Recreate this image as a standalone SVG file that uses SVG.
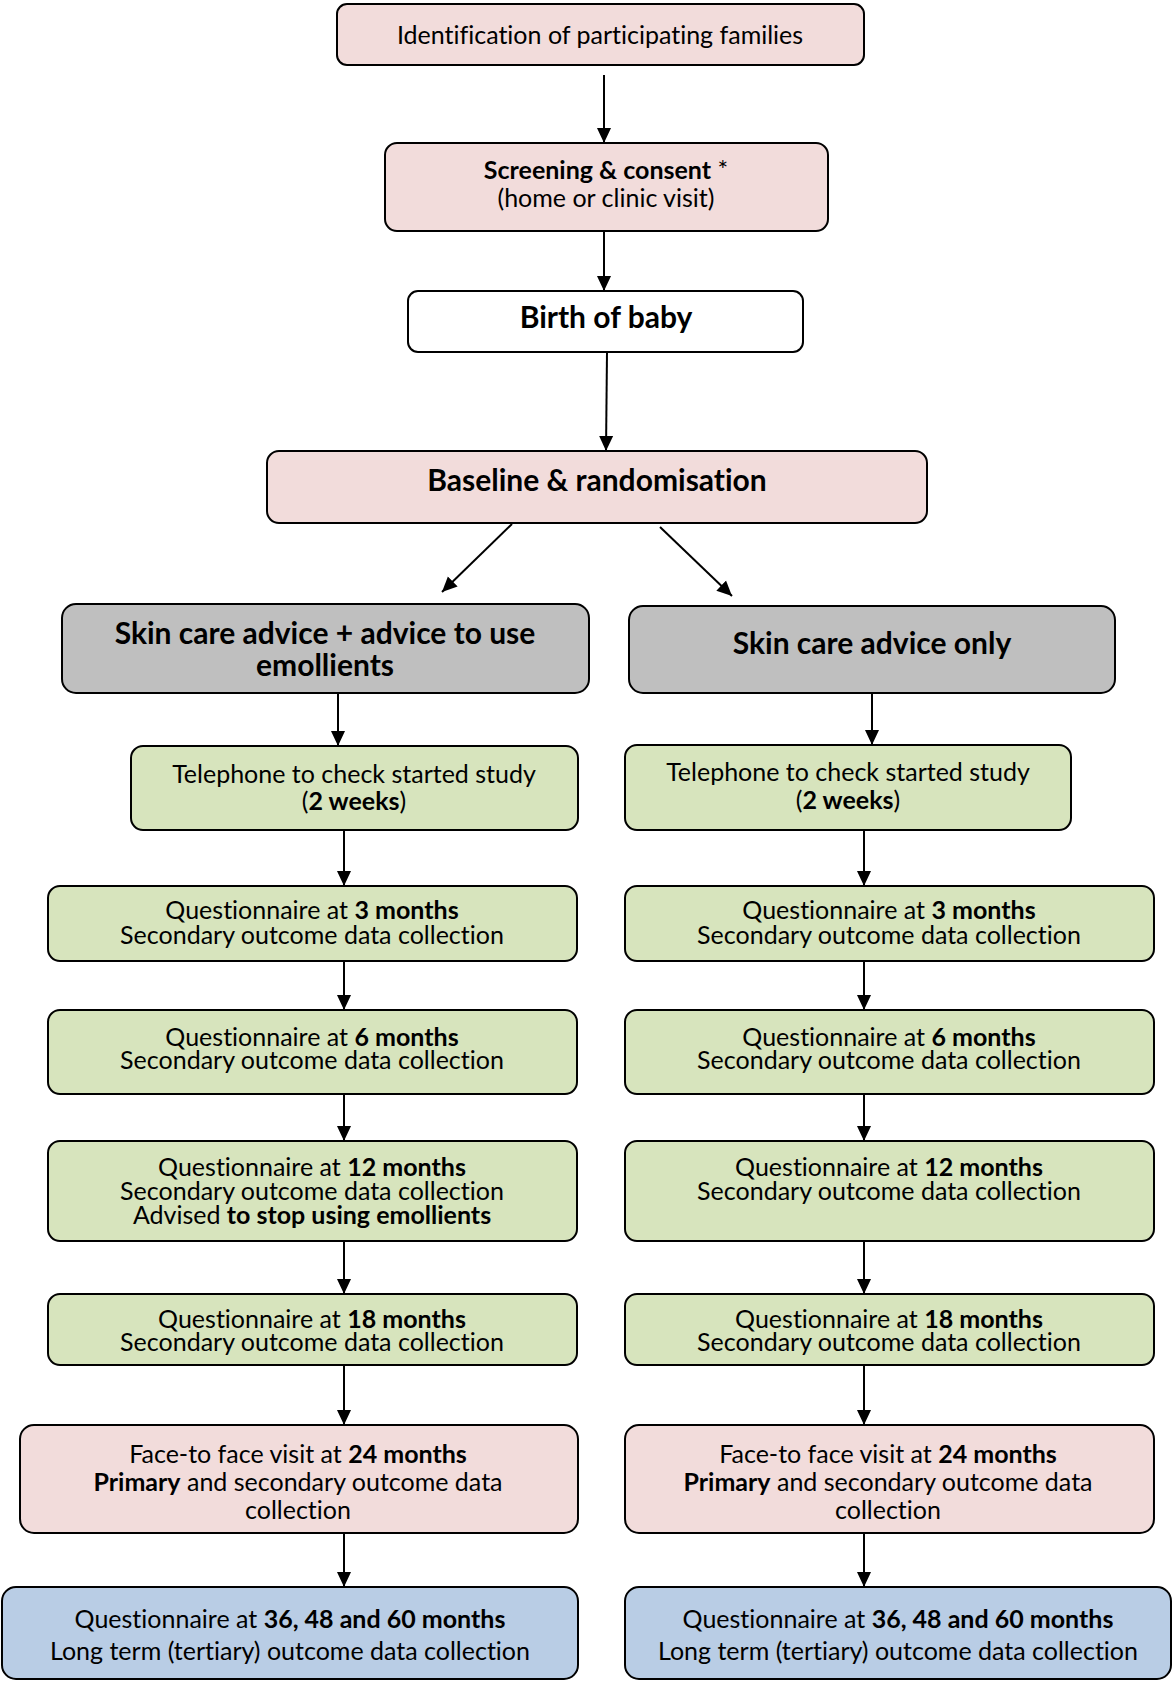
<svg xmlns="http://www.w3.org/2000/svg" width="1173" height="1681" viewBox="0 0 1173 1681">
<defs>
<marker id="ah" markerUnits="userSpaceOnUse" markerWidth="16" markerHeight="16" viewBox="0 0 16 16" refX="15" refY="8" orient="auto">
<path d="M0,1 L15,8 L0,15 Z" fill="#000"/>
</marker>
</defs>
<style>
.box{stroke:#000;stroke-width:2}
.pink{fill:#f2dcdb}
.green{fill:#d7e4bd}
.grey{fill:#bfbfbf}
.blue{fill:#b9cde5}
.white{fill:#fff}
text{font-family:Lato,"Liberation Sans",sans-serif;fill:#000;text-anchor:middle;font-variant-ligatures:none}
.t{font-size:25px}
.h{font-size:30px;font-weight:bold}
.b{font-weight:bold}
.conn line{stroke:#000;stroke-width:2;marker-end:url(#ah)}
</style>
<g class="conn">
<line x1="604" y1="75" x2="604" y2="143"/>
<line x1="604" y1="231" x2="604" y2="291"/>
<line x1="607" y1="352" x2="606" y2="451"/>
<line x1="512" y1="524" x2="442" y2="592"/>
<line x1="660" y1="527" x2="732" y2="596"/>
<line x1="338" y1="693" x2="338" y2="746"/>
<line x1="872" y1="693" x2="872" y2="745"/>
<line x1="344" y1="830" x2="344" y2="886"/>
<line x1="864" y1="830" x2="864" y2="886"/>
<line x1="344" y1="961" x2="344" y2="1010"/>
<line x1="864" y1="961" x2="864" y2="1010"/>
<line x1="344" y1="1094" x2="344" y2="1141"/>
<line x1="864" y1="1094" x2="864" y2="1141"/>
<line x1="344" y1="1241" x2="344" y2="1294"/>
<line x1="864" y1="1241" x2="864" y2="1294"/>
<line x1="344" y1="1365" x2="344" y2="1425"/>
<line x1="864" y1="1365" x2="864" y2="1425"/>
<line x1="344" y1="1533" x2="344" y2="1587"/>
<line x1="864" y1="1533" x2="864" y2="1587"/>
</g>
<g id="identification">
<rect class="box pink" x="337" y="4" width="527" height="61" rx="10"/>
<text class="t" x="600" y="44">Identification of participating families</text>
</g>
<g id="screening">
<rect class="box pink" x="385" y="143" width="443" height="88" rx="12"/>
<text class="t" x="606" y="179"><tspan class="b">Screening &amp; consent</tspan> *</text>
<text class="t" x="606" y="207">(home or clinic visit)</text>
</g>
<g id="birth">
<rect class="box white" x="408" y="291" width="395" height="61" rx="10"/>
<text class="h" x="606" y="328">Birth of baby</text>
</g>
<g id="baseline">
<rect class="box pink" x="267" y="451" width="660" height="72" rx="12"/>
<text class="h" x="597" y="491">Baseline &amp; randomisation</text>
</g>
<g id="arm-emollient">
<rect class="box grey" x="62" y="604" width="527" height="89" rx="14"/>
<text class="h" x="325" y="644">Skin care advice + advice to use</text>
<text class="h" x="325" y="676">emollients</text>
</g>
<g id="arm-control">
<rect class="box grey" x="629" y="606" width="486" height="87" rx="14"/>
<text class="h" x="872" y="654">Skin care advice only</text>
</g>
<g id="tel-left">
<rect class="box green" x="131" y="746" width="447" height="84" rx="12"/>
<text class="t" x="354" y="783">Telephone to check started study</text>
<text class="t" x="354" y="810">(<tspan class="b">2 weeks</tspan>)</text>
</g>
<g id="tel-right">
<rect class="box green" x="625" y="745" width="446" height="85" rx="12"/>
<text class="t" x="848" y="781">Telephone to check started study</text>
<text class="t" x="848" y="809">(<tspan class="b">2 weeks</tspan>)</text>
</g>
<g id="q3-left">
<rect class="box green" x="48" y="886" width="529" height="75" rx="12"/>
<text class="t" x="312" y="919">Questionnaire at <tspan class="b">3 months</tspan></text>
<text class="t" x="312" y="944">Secondary outcome data collection</text>
</g>
<g id="q3-right">
<rect class="box green" x="625" y="886" width="529" height="75" rx="12"/>
<text class="t" x="889" y="919">Questionnaire at <tspan class="b">3 months</tspan></text>
<text class="t" x="889" y="944">Secondary outcome data collection</text>
</g>
<g id="q6-left">
<rect class="box green" x="48" y="1010" width="529" height="84" rx="12"/>
<text class="t" x="312" y="1046">Questionnaire at <tspan class="b">6 months</tspan></text>
<text class="t" x="312" y="1069">Secondary outcome data collection</text>
</g>
<g id="q6-right">
<rect class="box green" x="625" y="1010" width="529" height="84" rx="12"/>
<text class="t" x="889" y="1046">Questionnaire at <tspan class="b">6 months</tspan></text>
<text class="t" x="889" y="1069">Secondary outcome data collection</text>
</g>
<g id="q12-left">
<rect class="box green" x="48" y="1141" width="529" height="100" rx="12"/>
<text class="t" x="312" y="1176">Questionnaire at <tspan class="b">12 months</tspan></text>
<text class="t" x="312" y="1200">Secondary outcome data collection</text>
<text class="t" x="312" y="1224">Advised <tspan class="b">to stop using emollients</tspan></text>
</g>
<g id="q12-right">
<rect class="box green" x="625" y="1141" width="529" height="100" rx="12"/>
<text class="t" x="889" y="1176">Questionnaire at <tspan class="b">12 months</tspan></text>
<text class="t" x="889" y="1200">Secondary outcome data collection</text>
</g>
<g id="q18-left">
<rect class="box green" x="48" y="1294" width="529" height="71" rx="12"/>
<text class="t" x="312" y="1328">Questionnaire at <tspan class="b">18 months</tspan></text>
<text class="t" x="312" y="1351">Secondary outcome data collection</text>
</g>
<g id="q18-right">
<rect class="box green" x="625" y="1294" width="529" height="71" rx="12"/>
<text class="t" x="889" y="1328">Questionnaire at <tspan class="b">18 months</tspan></text>
<text class="t" x="889" y="1351">Secondary outcome data collection</text>
</g>
<g id="f2f-left">
<rect class="box pink" x="20" y="1425" width="558" height="108" rx="14"/>
<text class="t" x="298" y="1463">Face-to face visit at <tspan class="b">24 months</tspan></text>
<text class="t" x="298" y="1491"><tspan class="b">Primary</tspan> and secondary outcome data</text>
<text class="t" x="298" y="1519">collection</text>
</g>
<g id="f2f-right">
<rect class="box pink" x="625" y="1425" width="529" height="108" rx="14"/>
<text class="t" x="888" y="1463">Face-to face visit at <tspan class="b">24 months</tspan></text>
<text class="t" x="888" y="1491"><tspan class="b">Primary</tspan> and secondary outcome data</text>
<text class="t" x="888" y="1519">collection</text>
</g>
<g id="long-left">
<rect class="box blue" x="2" y="1587" width="576" height="92" rx="14"/>
<text class="t" x="290" y="1628">Questionnaire at <tspan class="b">36, 48 and 60 months</tspan></text>
<text class="t" x="290" y="1660">Long term (tertiary) outcome data collection</text>
</g>
<g id="long-right">
<rect class="box blue" x="625" y="1587" width="546" height="92" rx="14"/>
<text class="t" x="898" y="1628">Questionnaire at <tspan class="b">36, 48 and 60 months</tspan></text>
<text class="t" x="898" y="1660">Long term (tertiary) outcome data collection</text>
</g>
</svg>
